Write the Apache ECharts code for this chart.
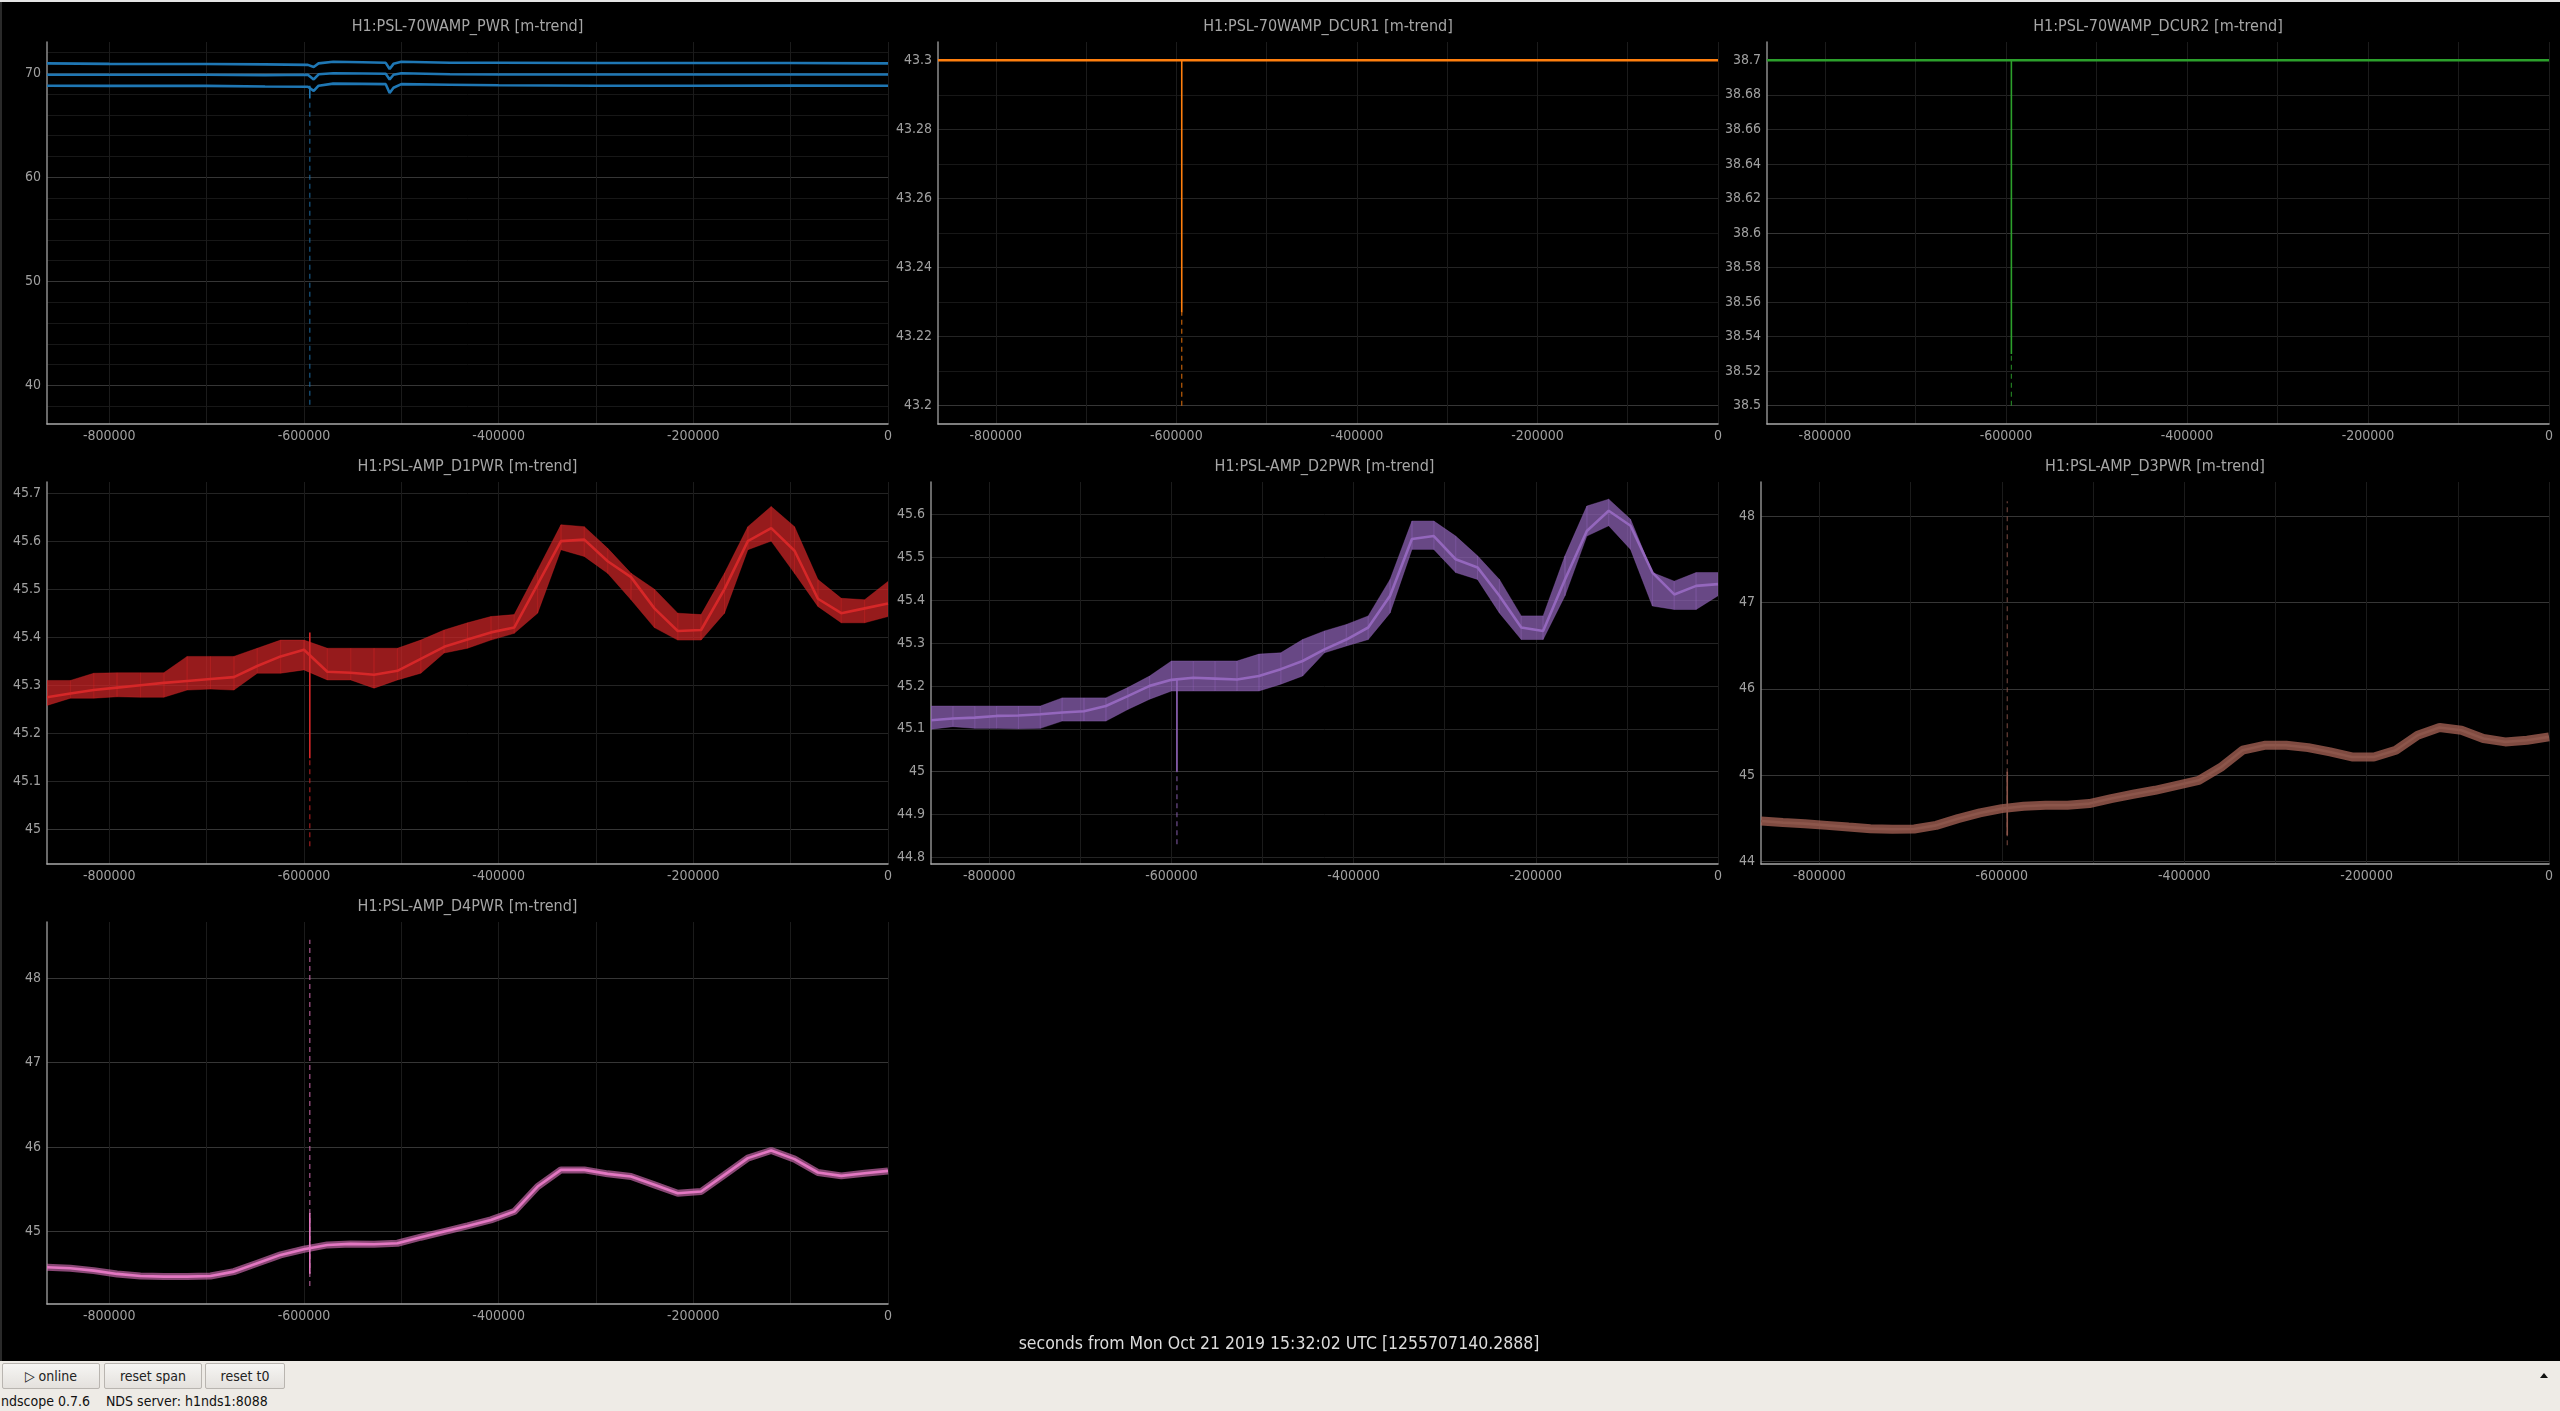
<!DOCTYPE html>
<html>
<head>
<meta charset="utf-8">
<title>ndscope</title>
<script src="https://cdn.jsdelivr.net/npm/echarts@6/dist/echarts.min.js"></script>
<style>
html, body { margin:0; padding:0; width:2560px; height:1411px; overflow:hidden; background:#eeebe6; }
#main { position:absolute; left:0; top:0; width:2560px; height:1361px; background:#000; }
#topline { position:absolute; left:0; top:0; width:2560px; height:2px; background:#e4e4e4; }
#leftline { position:absolute; left:0; top:2px; width:2px; height:1359px; background:#2a2a2a; }
.btn { position:absolute; top:1363px; height:24px; border:1px solid #b9b5b0; border-radius:2px;
       background:linear-gradient(#f6f5f3,#e4e1dd); font:14px "DejaVu Sans Condensed","DejaVu Sans",sans-serif;
       color:#222; line-height:24px; text-align:center; box-sizing:content-box; }
#status { position:absolute; left:1px; top:1393px; font:14px "DejaVu Sans Condensed","DejaVu Sans",sans-serif;
          color:#111; white-space:pre; }
#grip { position:absolute; left:2540px; top:1373px; width:0; height:0;
        border-left:4px solid transparent; border-right:4px solid transparent; border-bottom:5px solid #111; }
</style>
</head>
<body>
<div id="main"></div>
<div id="topline"></div>
<div id="leftline"></div>
<div class="btn" style="left:2px;width:96px;">&#9655; online</div>
<div class="btn" style="left:104px;width:96px;">reset span</div>
<div class="btn" style="left:205px;width:78px;">reset t0</div>
<div id="status">ndscope 0.7.6    NDS server: h1nds1:8088</div>
<div id="grip"></div>
<script>
// 时间轴 (s, 相对 t0)
var t = [-864000,-840000,-816000,-792000,-768000,-744000,-720000,-696000,-672000,-648000,-624000,-600000,
         -576000,-552000,-528000,-504000,-480000,-456000,-432000,-408000,-384000,-360000,-336000,-312000,
         -288000,-264000,-240000,-216000,-192000,-168000,-144000,-120000,-96000,-72000,-48000,-24000,0];
var spikeT = -594000;
var xLabels = [-800000,-600000,-400000,-200000,0];
var xGrid = [-800000,-700000,-600000,-500000,-400000,-300000,-200000,-100000,0];

// PWR
var pwrT    = [-864000,-800000,-700000,-640000,-596000,-590000,-585000,-570000,-540000,-516000,-512000,-508000,-500000,-450000,-400000,-300000,-200000,-100000,0];
var pwrMax  = [70.95,70.9,70.88,70.85,70.8,70.6,70.95,71.1,71.05,71.0,70.4,70.9,71.1,71.0,71.0,70.98,70.98,70.98,70.95];
var pwrMean = [69.85,69.85,69.85,69.82,69.85,69.4,69.9,70.0,69.98,69.95,69.4,69.85,70.0,69.9,69.88,69.88,69.88,69.88,69.88];
var pwrMin  = [68.8,68.78,68.78,68.72,68.7,68.3,68.8,69.0,68.98,68.95,68.1,68.6,68.95,68.9,68.85,68.8,68.8,68.82,68.8];
var pwrSpike = [67.6, 68.8];
var pwrSpikeMin = [38.14, 67.6];
var pwrLabels = [40,50,60,70];
var pwrMinor = [38,42,44,46,48,52,54,56,58,62,64,66,68,72];

// DCUR1
var dcur1T = [-864000, 0];
var dcur1Mean = [43.3, 43.3];
var dcur1Spike = [43.227, 43.3];
var dcur1SpikeMin = [43.2, 43.227];
var dcur1Labels = [43.2,43.22,43.24,43.26,43.28,43.3];
var dcur1Minor = [43.21,43.23,43.25,43.27,43.29];
var dcur1Bold = [43.2,43.3];

// DCUR2
var dcur2T = [-864000, 0];
var dcur2Mean = [38.7, 38.7];
var dcur2Spike = [38.53, 38.7];
var dcur2SpikeMin = [38.5, 38.53];
var dcur2Labels = [38.5,38.52,38.54,38.56,38.58,38.6,38.62,38.64,38.66,38.68,38.7];
var dcur2Bold = [38.5,38.6,38.7];

// D1PWR
var d1Mean = [45.275,45.283,45.290,45.295,45.300,45.305,45.309,45.313,45.317,45.340,45.360,45.374,45.328,45.326,45.322,45.330,45.355,45.380,45.395,45.410,45.420,45.510,45.600,45.603,45.558,45.525,45.460,45.413,45.415,45.500,45.600,45.627,45.580,45.480,45.450,45.460,45.470];
var d1Max  = [45.310,45.310,45.325,45.326,45.326,45.326,45.360,45.360,45.360,45.377,45.394,45.394,45.377,45.377,45.377,45.377,45.394,45.415,45.430,45.443,45.447,45.540,45.634,45.630,45.585,45.533,45.500,45.450,45.447,45.533,45.630,45.672,45.630,45.520,45.481,45.478,45.516];
var d1Min  = [45.258,45.273,45.273,45.276,45.275,45.275,45.290,45.292,45.290,45.325,45.325,45.332,45.311,45.311,45.294,45.311,45.325,45.367,45.377,45.394,45.408,45.450,45.582,45.568,45.533,45.478,45.420,45.394,45.394,45.450,45.582,45.600,45.533,45.464,45.430,45.430,45.443];
var d1Spike = [45.148, 45.41];
var d1SpikeMin = [44.965, 45.148];
var d1Labels = [45,45.1,45.2,45.3,45.4,45.5,45.6,45.7];

// D2PWR
var d2Mean = [45.120,45.124,45.126,45.130,45.131,45.134,45.138,45.141,45.153,45.176,45.200,45.214,45.219,45.217,45.215,45.223,45.239,45.258,45.285,45.308,45.336,45.410,45.542,45.549,45.495,45.476,45.410,45.336,45.328,45.448,45.561,45.608,45.573,45.464,45.413,45.433,45.437];
var d2Max  = [45.153,45.153,45.153,45.153,45.153,45.153,45.172,45.172,45.172,45.196,45.223,45.258,45.258,45.258,45.258,45.274,45.277,45.308,45.328,45.343,45.363,45.448,45.584,45.584,45.549,45.503,45.448,45.363,45.363,45.503,45.619,45.635,45.588,45.464,45.444,45.464,45.464];
var d2Min  = [45.099,45.105,45.101,45.101,45.100,45.101,45.118,45.118,45.118,45.145,45.169,45.188,45.188,45.188,45.188,45.188,45.204,45.223,45.277,45.293,45.308,45.370,45.518,45.518,45.464,45.448,45.370,45.308,45.308,45.410,45.549,45.573,45.518,45.386,45.378,45.378,45.410];
var d2Spike = [45.0, 45.214];
var d2SpikeMin = [44.831, 45.0];
var d2Labels = [44.8,44.9,45,45.1,45.2,45.3,45.4,45.5,45.6];

// D3PWR
var d3Mean = [44.471,44.452,44.440,44.420,44.400,44.382,44.375,44.378,44.420,44.498,44.564,44.614,44.641,44.653,44.653,44.672,44.730,44.780,44.826,44.884,44.942,45.090,45.290,45.347,45.347,45.320,45.270,45.212,45.212,45.290,45.463,45.552,45.521,45.425,45.386,45.405,45.444];
var d3Spike = [44.305, 45.04];
var d3SpikeMin = [44.19, 48.17];
var d3Labels = [44,45,46,47,48];

// D4PWR
var d4Mean = [44.578,44.566,44.538,44.499,44.475,44.467,44.467,44.475,44.526,44.625,44.724,44.791,44.842,44.854,44.850,44.862,44.933,45.000,45.067,45.138,45.237,45.533,45.730,45.730,45.683,45.651,45.553,45.454,45.474,45.671,45.869,45.959,45.857,45.699,45.659,45.691,45.718];
var d4Spike = [44.5, 45.22];
var d4SpikeMin = [44.357, 48.454];
var d4Labels = [45,46,47,48];

var FONT = '"DejaVu Sans Condensed","DejaVu Sans",sans-serif';

var panels = [
    {title:'H1:PSL-70WAMP_PWR [m-trend]', left:47, top:42, width:841, min:36.3, max:73.0, color:'#1f77b4',
     labels:pwrLabels, minor:pwrMinor, bold:pwrLabels,
     lines:[{x:pwrT, y:pwrMax}, {x:pwrT, y:pwrMean}, {x:pwrT, y:pwrMin}], spike:pwrSpike, spikeMin:pwrSpikeMin},
    {title:'H1:PSL-70WAMP_DCUR1 [m-trend]', left:938, top:42, width:780, min:43.1947, max:43.3053, color:'#ff7f0e',
     labels:dcur1Labels, minor:dcur1Minor, bold:dcur1Bold,
     lines:[{x:dcur1T, y:dcur1Mean}], spike:dcur1Spike, spikeMin:dcur1SpikeMin},
    {title:'H1:PSL-70WAMP_DCUR2 [m-trend]', left:1767, top:42, width:782, min:38.4894, max:38.7106, color:'#2ca02c',
     labels:dcur2Labels, minor:[], bold:dcur2Bold,
     lines:[{x:dcur2T, y:dcur2Mean}], spike:dcur2Spike, spikeMin:dcur2SpikeMin},
    {title:'H1:PSL-AMP_D1PWR [m-trend]', left:47, top:482, width:841, min:44.928, max:45.723, color:'#d62728',
     labels:d1Labels, minor:[], bold:[45],
     band:{lo:d1Min, hi:d1Max}, lines:[{x:t, y:d1Mean}], spike:d1Spike, spikeMin:d1SpikeMin},
    {title:'H1:PSL-AMP_D2PWR [m-trend]', left:931, top:482, width:787, min:44.785, max:45.675, color:'#9467bd',
     labels:d2Labels, minor:[], bold:[45],
     band:{lo:d2Min, hi:d2Max}, lines:[{x:t, y:d2Mean}], spike:d2Spike, spikeMin:d2SpikeMin},
    {title:'H1:PSL-AMP_D3PWR [m-trend]', left:1761, top:482, width:788, min:43.973, max:48.394, color:'#8c564b',
     labels:d3Labels, minor:[], bold:d3Labels,
     thick:{y:d3Mean, w:9, c:'rgba(176,104,90,0.72)'}, lines:[{x:t, y:d3Mean}], spike:d3Spike, spikeMin:d3SpikeMin},
    {title:'H1:PSL-AMP_D4PWR [m-trend]', left:47, top:922, width:841, min:44.143, max:48.663, color:'#e377c2',
     labels:d4Labels, minor:[], bold:d4Labels,
     thick:{y:d4Mean, w:7, c:'rgba(227,119,194,0.6)'}, lines:[{x:t, y:d4Mean}], spike:d4Spike, spikeMin:d4SpikeMin}
];

function pts(xs, ys){
    return xs.map(function(x, k){ return [x, ys[k]]; });
}
function plain(v){ return String(v); }

// min/max 带 (自定义系列, 用坐标轴换算)
function bandSeries(i, yi, xs, lo, hi, color){
    return {
        type:'custom', xAxisIndex:i, yAxisIndex:yi, silent:true, clip:true, z:1,
        data:xs.map(function(x, k){ return [x, lo[k], hi[k]]; }),
        encode:{ x:0, y:[1, 2] },
        renderItem:function(params, api){
            var k = params.dataIndex;
            if (k >= xs.length - 1) return null;
            var a = api.coord([xs[k], lo[k]]), b = api.coord([xs[k], hi[k]]);
            var c = api.coord([xs[k + 1], hi[k + 1]]), d = api.coord([xs[k + 1], lo[k + 1]]);
            return { type:'polygon', shape:{ points:[a, b, c, d] },
                     style:{ fill:color, opacity:0.7, stroke:color, lineWidth:0.5 } };
        }
    };
}

var option = {
    backgroundColor: '#000',
    animation: false,
    textStyle: { fontFamily: FONT },
    grid: [], xAxis: [], yAxis: [], series: [], graphic: []
};

var PH = 382;
panels.forEach(function(p, i){
    option.grid.push({ left:p.left, top:p.top, width:p.width, height:PH, containLabel:false });
    option.xAxis.push({
        type:'value', gridIndex:i, min:-864000, max:0,
        axisLine:{ show:true, onZero:false, lineStyle:{ color:'#a8a8a8', width:1.5 } },
        axisTick:{ show:false, customValues:xGrid },
        axisLabel:{ customValues:xLabels, formatter:plain, color:'#a0a0a0', fontSize:14, margin:5, fontFamily:FONT },
        splitLine:{ show:true, lineStyle:{ color:'#1b1b1b', width:1 } }
    });
    var yi = option.yAxis.length;
    // 主刻度
    option.yAxis.push({
        type:'value', gridIndex:i, min:p.min, max:p.max,
        axisLine:{ show:true, onZero:false, lineStyle:{ color:'#8c8c8c', width:1.5 } },
        axisTick:{ show:false, customValues:p.labels },
        axisLabel:{ customValues:p.labels, formatter:plain, color:'#a0a0a0', fontSize:14, margin:6, fontFamily:FONT },
        splitLine:{ show:true, lineStyle:{ color:'#242424', width:1 } }
    });
    // 次网格
    option.yAxis.push({
        type:'value', gridIndex:i, min:p.min, max:p.max,
        axisLine:{ show:false }, axisLabel:{ show:false },
        axisTick:{ show:false, customValues:p.minor.length ? p.minor : [p.min] },
        splitLine:{ show:p.minor.length > 0, lineStyle:{ color:'#171717', width:1 } }
    });
    // 粗网格
    option.yAxis.push({
        type:'value', gridIndex:i, min:p.min, max:p.max,
        axisLine:{ show:false }, axisLabel:{ show:false },
        axisTick:{ show:false, customValues:p.bold },
        splitLine:{ show:true, lineStyle:{ color:'#363636', width:1.2 } }
    });

    var base = { type:'line', xAxisIndex:i, yAxisIndex:yi, symbol:'none', silent:true, z:2 };
    if (p.band) {
        option.series.push(bandSeries(i, yi, t, p.band.lo, p.band.hi, p.color));
    }
    if (p.thick) {
        option.series.push(Object.assign({}, base, {
            data:pts(t, p.thick.y), lineStyle:{ width:p.thick.w, color:p.thick.c }
        }));
    }
    p.lines.forEach(function(ln){
        option.series.push(Object.assign({}, base, {
            data:pts(ln.x, ln.y), lineStyle:{ width:2.6, color:p.color }
        }));
    });
    option.series.push(Object.assign({}, base, {
        data:[[spikeT, p.spikeMin[0]], [spikeT, p.spikeMin[1]]],
        lineStyle:{ width:1.2, color:p.color, type:[5, 4], opacity:0.75 }
    }));
    option.series.push(Object.assign({}, base, {
        data:[[spikeT, p.spike[0]], [spikeT, p.spike[1]]],
        lineStyle:{ width:1.6, color:p.color }
    }));

    option.graphic.push({
        type:'text', x:p.left + p.width / 2, y:p.top - 15, silent:true,
        style:{ text:p.title, fill:'#a6a6a6', fontSize:16, fontFamily:FONT, textAlign:'center', textVerticalAlign:'middle' }
    });
});

option.graphic.push({
    type:'text', x:1279, y:1344, silent:true,
    style:{ text:'seconds from Mon Oct 21 2019 15:32:02 UTC [1255707140.2888]', fill:'#dcdcdc',
            fontSize:17.5, fontFamily:FONT, textAlign:'center', textVerticalAlign:'middle' }
});

var chart = echarts.init(document.getElementById('main'));
chart.setOption(option);
</script>
</body>
</html>
